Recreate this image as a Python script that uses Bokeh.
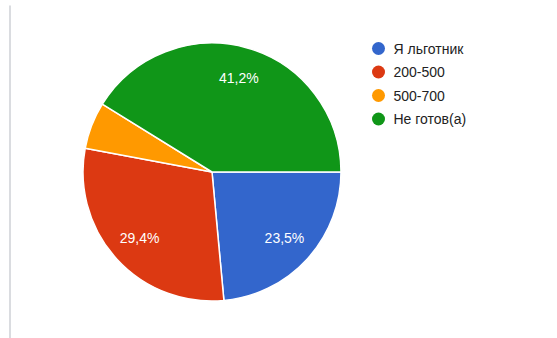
import math
from bokeh.plotting import figure
from bokeh.models import Range1d, ColumnDataSource
from bokeh.core.properties import value
from bokeh.embed import file_html
from bokeh.resources import INLINE

categories = ["Я льготник", "200-500", "500-700", "Не готов(а)"]
counts = [4, 5, 1, 7]
colors = ["#3366cc", "#dc3912", "#ff9900", "#109618"]

W, H = 557, 338
cx, cy, R = 211.5, H - 171.5, 129

total = sum(counts)
starts, ends, mids, pct = [], [], [], []
a = 0.0
for c in counts:
    frac = c / total
    s = a - frac * 2 * math.pi
    starts.append(s)
    ends.append(a)
    mids.append((s + a) / 2)
    pct.append(frac * 100)
    a = s

p = figure(width=W, height=H, output_backend="svg", toolbar_location=None,
           x_range=Range1d(0, W), y_range=Range1d(0, H), min_border=0)
p.axis.visible = False
p.grid.visible = False
p.outline_line_color = None
p.background_fill_color = "white"

# left border line
p.segment(x0=[9.5], y0=[H - 5], x1=[9.5], y1=[0], line_color="#dadce0", line_width=2)

src = ColumnDataSource(dict(start=starts, end=ends, color=colors))
p.wedge(x=cx, y=cy, radius=R, start_angle="start", end_angle="end",
        fill_color="color", line_color="white", line_width=1.5, source=src)

lx, ly, lt = [], [], []
for m, pc in zip(mids, pct):
    if pc < 10:
        continue
    lx.append(cx + 0.76 * R * math.cos(m))
    ly.append(cy + 0.76 * R * math.sin(m))
    lt.append(f"{pc:.1f}".replace(".", ",") + "%")
p.text(x=lx, y=ly, text=lt, text_color="white", text_font=value("Liberation Sans"),
       text_font_size="14px", text_align="center", text_baseline="middle")

# legend
leg_y = [H - (48 + 23.5 * i) for i in range(len(categories))]
p.scatter(x=[378] * len(categories), y=leg_y, size=13, fill_color=colors, line_color=None)
p.text(x=[393] * len(categories), y=leg_y, text=categories, text_color="#222222",
       text_font=value("Liberation Sans"), text_font_size="14px",
       text_align="left", text_baseline="middle")

open("out.html", "w").write(file_html(p, INLINE))
